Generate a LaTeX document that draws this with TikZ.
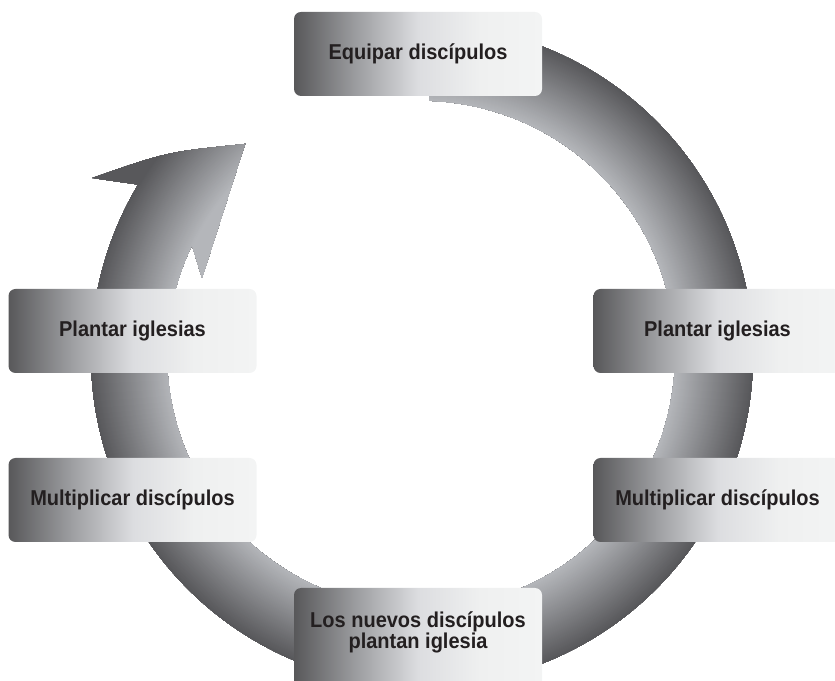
\documentclass[tikz,border=0pt]{standalone}
\usepackage{fontspec}
\setmainfont{Liberation Sans}[FakeStretch=0.93]
\usetikzlibrary{positioning}

\definecolor{ringdark}{HTML}{58585B}
\definecolor{ringlight}{HTML}{B4B6BA}
\definecolor{boxa}{HTML}{58585A}
\definecolor{boxb}{HTML}{9C9DA0}
\definecolor{boxc}{HTML}{DCDDE0}
\definecolor{boxd}{HTML}{EFF0F0}
\definecolor{boxe}{HTML}{F3F4F4}
\definecolor{txt}{HTML}{231F20}
\pgfdeclarehorizontalshading{boxshade}{100bp}{color(0bp)=(boxa); color(25bp)=(boxa);
  color(37.5bp)=(boxb); color(50bp)=(boxc); color(62.5bp)=(boxd); color(75bp)=(boxe); color(100bp)=(boxe)}

\begin{document}
\begin{tikzpicture}[x=1pt,y=1pt,node distance=169pt,on grid,
  stage/.style={rounded corners=7pt,shading=boxshade,minimum width=248pt,minimum height=84pt,
    inner sep=0pt,align=center,text=txt,font=\bfseries\fontsize{21.5}{21.5}\selectfont}]
  \useasboundingbox (0,0) rectangle (835,680);
  \clip (0,0) rectangle (835,680);

  % ring with arrow head
  \begin{scope}[shift={(422,325)}]
    \clip (88.6:331) arc[start angle=88.6,end angle=-211,radius=331]
      -- (-330,177) .. controls (-255,203) .. (-177,211)
      -- (-220,77) -- (-230,110)
      arc[start angle=-205.6,end angle=88.2,radius=254] -- cycle;
    \foreach \r in {380,379,...,250}{
      \pgfmathsetmacro\mix{max(0,min(100,(331-\r)*100/77))}
      \fill[ringlight!\mix!ringdark] (0,0) circle (\r);
    }
  \end{scope}

  \node[stage] (equip) at (418,626) {Equipar discípulos};
  \node[stage] (plantL) at (132.5,349) {Plantar iglesias};
  \node[stage] (multL) [below=of plantL] {Multiplicar discípulos};
  \node[stage] (plantR) [right=585pt of plantL] {Plantar iglesias};
  \node[stage] (multR) [below=of plantR] {Multiplicar discípulos};
  \node[stage,minimum height=102pt,text depth=18pt] (newdisc) at (418,41)
    {Los nuevos discípulos\\plantan iglesia};
\end{tikzpicture}
\end{document}
